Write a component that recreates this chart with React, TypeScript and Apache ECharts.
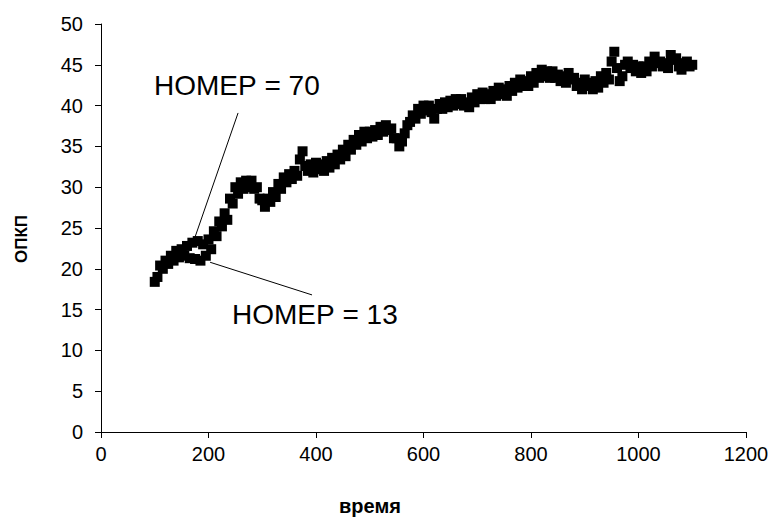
import React, { useEffect, useRef } from "react";
import * as echarts from "echarts";

const time: number[] = [
  100, 105, 110, 115, 120, 125, 130, 135, 140, 145, 150, 155, 160, 165, 170, 175, 180, 185, 190, 195,
  200, 205, 210, 215, 220, 225, 230, 235, 240, 245, 250, 255, 260, 265, 270, 275, 280, 285, 290, 295,
  300, 305, 310, 315, 320, 325, 330, 335, 340, 345, 350, 355, 360, 365, 370, 375, 380, 385, 390, 395,
  400, 405, 410, 415, 420, 425, 430, 435, 440, 445, 450, 455, 460, 465, 470, 475, 480, 485, 490, 495,
  500, 505, 510, 515, 520, 525, 530, 535, 540, 545, 550, 555, 560, 565, 570, 575, 580, 585, 590, 595,
  600, 605, 610, 615, 620, 625, 630, 635, 640, 645, 650, 655, 660, 665, 670, 675, 680, 685, 690, 695,
  700, 705, 710, 715, 720, 725, 730, 735, 740, 745, 750, 755, 760, 765, 770, 775, 780, 785, 790, 795,
  800, 805, 810, 815, 820, 825, 830, 835, 840, 845, 850, 855, 860, 865, 870, 875, 880, 885, 890, 895,
  900, 905, 910, 915, 920, 925, 930, 935, 940, 945, 950, 955, 960, 965, 970, 975, 980, 985, 990, 995,
  1000, 1005, 1010, 1015, 1020, 1025, 1030, 1035, 1040, 1045, 1050, 1055, 1060, 1065, 1070, 1075, 1080, 1085, 1090, 1095,
  1100,
];

const opkp: number[] = [
  18.4, 19.0, 20.4, 20.0, 21.0, 20.6, 21.6, 21.0, 22.2, 21.4, 22.4, 21.6, 22.8, 21.3, 23.2, 21.2, 23.4, 21.0, 23.0, 21.6,
  23.6, 22.4, 24.6, 24.0, 25.8, 25.2, 26.8, 26.0, 28.6, 28.0, 30.0, 29.2, 30.6, 29.8, 30.8, 30.0, 30.8, 29.8, 30.0, 28.6,
  28.4, 27.6, 28.6, 28.2, 29.4, 28.8, 30.4, 29.8, 31.2, 30.6, 31.6, 31.0, 32.0, 31.4, 33.4, 34.4, 32.6, 32.0, 32.8, 31.8,
  33.0, 32.2, 32.8, 32.0, 33.2, 32.4, 33.6, 32.8, 34.0, 33.4, 34.6, 33.8, 35.2, 34.6, 35.8, 35.2, 36.4, 35.6, 36.8, 36.0,
  36.8, 36.2, 37.0, 36.4, 37.4, 36.8, 37.6, 37.0, 37.2, 36.0, 36.0, 35.0, 35.6, 36.6, 37.6, 38.0, 38.8, 38.4, 39.6, 39.0,
  40.0, 39.4, 40.0, 39.2, 38.4, 39.6, 40.2, 39.6, 40.4, 39.8, 40.6, 40.0, 40.8, 40.2, 40.8, 40.0, 40.4, 39.8, 41.0, 40.4,
  41.4, 40.8, 41.6, 40.8, 41.4, 40.8, 41.8, 41.2, 42.2, 41.4, 42.0, 41.2, 42.4, 41.8, 42.8, 42.2, 43.2, 42.4, 43.0, 42.4,
  43.6, 42.8, 44.0, 43.4, 44.4, 43.6, 44.2, 43.4, 44.2, 43.4, 43.8, 43.0, 43.6, 42.8, 44.0, 43.2, 43.4, 42.4, 42.8, 42.0,
  43.2, 42.4, 42.8, 42.0, 43.0, 42.2, 43.6, 42.8, 44.0, 43.2, 45.4, 46.6, 44.6, 43.0, 43.6, 45.0, 45.4, 44.6, 45.0, 44.2,
  44.8, 44.0, 44.8, 44.2, 45.4, 44.8, 46.0, 45.2, 45.4, 44.8, 45.2, 44.6, 46.2, 45.6, 45.8, 44.8, 44.4, 45.2, 45.4, 44.8,
  45.0,
];

// annotations: label, text anchor (x, baseline y), pointer start, pointer end — in data units
const annoLabels: string[] = ["НОМЕР = 70", "НОМЕР = 13"];
const annoTextPos: number[][] = [[98.6, 40.8], [243.7, 12.7]];
const annoLineFrom: number[][] = [[255, 39.1], [392.6, 16.8]];
const annoLineTo: number[][] = [[175, 23.9], [203, 20.8]];

const xName = "время";
const yName = "ОПКП";

const xTicks = { min: 0, max: 1200, interval: 200 };
const yTicks = { min: 0, max: 50, interval: 5 };

const mainFont = "'Liberation Sans', Arial, sans-serif";

export default function App() {
  const ref = useRef<HTMLDivElement>(null);
  useEffect(() => {
    if (!ref.current) return;
    const chart = echarts.init(ref.current, null, { renderer: "svg" });
    const data = time.map((t, i) => [t, opkp[i]]);
    chart.setOption({
      animation: false,
      backgroundColor: "#ffffff",
      grid: { left: 101, right: 28, top: 24, bottom: 96 },
      xAxis: {
        type: "value",
        min: xTicks.min,
        max: xTicks.max,
        interval: xTicks.interval,
        axisLine: { onZero: false, lineStyle: { color: "#000", width: 1 } },
        axisTick: { show: true, inside: false, length: 6, lineStyle: { color: "#000" } },
        axisLabel: {
          margin: 12,
          color: "#000",
          fontSize: 20,
          fontFamily: mainFont,
          formatter: (v: number) => String(v),
        },
        splitLine: { show: false },
      },
      yAxis: {
        type: "value",
        min: yTicks.min,
        max: yTicks.max,
        interval: yTicks.interval,
        axisLine: { show: true, onZero: false, lineStyle: { color: "#000", width: 1 } },
        axisTick: { show: true, inside: false, length: 6, lineStyle: { color: "#000" } },
        axisLabel: {
          margin: 18,
          color: "#000",
          fontSize: 20,
          fontFamily: mainFont,
          formatter: (v: number) => String(v),
        },
        splitLine: { show: false },
      },
      series: [
        {
          type: "scatter",
          data,
          symbol: "rect",
          symbolSize: 10,
          itemStyle: { color: "#000", opacity: 1 },
          silent: true,
        },
      ],
    });

    const px = (p: number[]) => chart.convertToPixel({ gridIndex: 0 }, p) as number[];
    const graphics: any[] = [];
    annoLabels.forEach((label, i) => {
      const a = px(annoLineFrom[i]);
      const b = px(annoLineTo[i]);
      const t = px(annoTextPos[i]);
      graphics.push({
        type: "line",
        shape: { x1: a[0], y1: a[1], x2: b[0], y2: b[1] },
        style: { stroke: "#000", lineWidth: 1 },
        z: 10,
      });
      graphics.push({
        type: "text",
        x: t[0],
        y: t[1],
        style: {
          text: label,
          fill: "#000",
          font: `28px ${mainFont}`,
          textAlign: "left",
          textVerticalAlign: "bottom",
          verticalAlign: "bottom",
        },
        z: 10,
      });
    });
    // axis titles
    graphics.push({
      type: "text",
      x: 370,
      y: 506,
      style: {
        text: xName,
        fill: "#000",
        font: `bold 20px ${mainFont}`,
        textAlign: "center",
        verticalAlign: "middle",
      },
    });
    graphics.push({
      type: "text",
      x: 21,
      y: 239,
      rotation: Math.PI / 2,
      style: {
        text: yName,
        fill: "#000",
        font: `bold 17px ${mainFont}`,
        textAlign: "center",
        verticalAlign: "middle",
      },
    });
    chart.setOption({ graphic: graphics });

    return () => chart.dispose();
  }, []);
  return (
    <div
      ref={ref}
      style={{ position: "fixed", left: 0, top: 0, width: 774, height: 528, background: "#fff" }}
    />
  );
}
